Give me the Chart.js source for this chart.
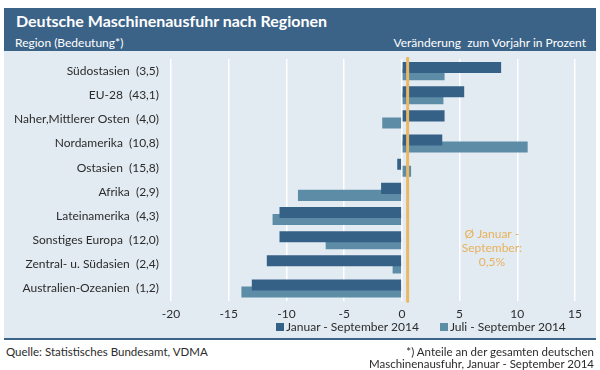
<!DOCTYPE html>
<html>
<head>
<meta charset="utf-8">
<script src="https://cdn.jsdelivr.net/npm/chart.js@4"></script>
<style>
  body { margin: 0; width: 600px; height: 370px; position: relative; background: #fff; font-family: Lato, sans-serif; color: #2b2b2b; overflow: hidden; }
  #head { position: absolute; left: 4px; top: 8px; width: 592px; height: 43px; background: #3b6388; color: #fff; }
  #title { position: absolute; left: 12px; top: 3px; font-size: 16px; font-weight: bold; }
  #subL { position: absolute; left: 11px; top: 27px; font-size: 12px; }
  #subR { position: absolute; right: 10px; top: 27px; font-size: 12px; }
  #plot { position: absolute; left: 4px; top: 51px; width: 592px; height: 287px; background: #e3ebf2; border-bottom: 2px solid #3b6388; }
  #legend { position: absolute; left: 276px; top: 319px; font-size: 12px; white-space: nowrap; }
  #legend span.item { margin-right: 21px; }
  #legend span.box { display: inline-block; width: 8px; height: 8px; margin-right: 2px; }
  .foot { position: absolute; font-size: 11.5px; line-height: 12px; }
</style>
</head>
<body>
<div id="head">
  <div id="title">Deutsche Maschinenausfuhr nach Regionen</div>
  <div id="subL">Region (Bedeutung*)</div>
  <div id="subR">Veränderung&nbsp; zum Vorjahr in Prozent</div>
</div>
<div id="plot"><canvas id="chart" width="592" height="287"></canvas></div>
<div id="legend"></div>
<div class="foot" style="left:6px; top:346px;">Quelle: Statistisches Bundesamt, VDMA</div>
<div class="foot" style="right:6px; top:346px; text-align:right;">*) Anteile an der gesamten deutschen<br>Maschinenausfuhr, Januar - September 2014</div>
<script>
const categories = ['Südostasien  (3,5)', 'EU-28  (43,1)', 'Naher,Mittlerer Osten  (4,0)', 'Nordamerika  (10,8)', 'Ostasien  (15,8)',
  'Afrika  (2,9)', 'Lateinamerika  (4,3)', 'Sonstiges Europa  (12,0)', 'Zentral- u. Südasien  (2,4)', 'Australien-Ozeanien  (1,2)'];
const seriesNames = ['Januar - September 2014', 'Juli - September 2014'];
const janSep = [8.6, 5.4, 3.7, 3.5, -0.4, -1.8, -10.6, -10.6, -11.7, -13.0];
const julSep = [3.7, 3.6, -1.7, 10.9, 0.8, -9.0, -11.2, -6.6, -0.8, -13.9];
const xMin = -20, xMax = 15, xStep = 5;
const avgJanSep = 0.5;
const avgLabel = ['Ø Januar -', 'September:', '0,5%'];
const avgLabelAt = 7.8;

const colors = ['#366186', '#5d8ca6'];

// orange average line + its label
const avgLine = {
  id: 'avgLine',
  afterDatasetsDraw(chart) {
    const { ctx, chartArea, scales } = chart;
    const x = scales.x.getPixelForValue(avgJanSep);
    ctx.save();
    ctx.strokeStyle = '#e9b864';
    ctx.lineWidth = 3;
    ctx.beginPath();
    ctx.moveTo(x, chartArea.top - 2);
    ctx.lineTo(x, chartArea.bottom + 2);
    ctx.stroke();
    ctx.fillStyle = '#e7b15c';
    ctx.font = '12px Lato';
    ctx.textAlign = 'center';
    ctx.textBaseline = 'middle';
    const tx = scales.x.getPixelForValue(avgLabelAt);
    const ty = (scales.y.getPixelForValue(7) + scales.y.getPixelForValue(8)) / 2 - 4;
    avgLabel.forEach((t, i) => ctx.fillText(t, tx, ty + (i - 1) * 14));
    ctx.restore();
  }
};

const noPad = s => { s.paddingTop = 0; s.paddingBottom = 0; s.paddingLeft = 0; s.paddingRight = 0; };

const chart = new Chart(document.getElementById('chart'), {
  type: 'bar',
  data: {
    labels: categories,
    datasets: [
      { label: seriesNames[0], data: janSep, backgroundColor: colors[0] },
      { label: seriesNames[1], data: julSep, backgroundColor: colors[1] }
    ]
  },
  options: {
    indexAxis: 'y',
    responsive: false,
    animation: false,
    categoryPercentage: 14 / 24,
    barPercentage: 11 / 7,
    layout: { padding: { top: 8, right: 21, bottom: 11, left: 0 } },
    plugins: { legend: { display: false }, tooltip: { enabled: false } },
    scales: {
      x: {
        min: xMin, max: xMax,
        ticks: { stepSize: xStep, padding: 6, color: '#2b2b2b', font: { family: 'Lato', size: 12 }, callback: v => String(v) },
        grid: { color: '#ffffff', lineWidth: 1.5, drawTicks: false },
        border: { display: false },
        afterFit: noPad
      },
      y: {
        ticks: { padding: 12, color: '#2b2b2b', font: { family: 'Lato', size: 12 } },
        grid: { display: false, drawTicks: false },
        border: { display: false },
        afterFit: s => { noPad(s); s.width = 167; }
      }
    }
  },
  plugins: [avgLine]
});

const legend = document.getElementById('legend');
chart.data.datasets.forEach(ds => {
  const item = document.createElement('span');
  item.className = 'item';
  item.innerHTML = `<span class="box" style="background:${ds.backgroundColor}"></span>${ds.label}`;
  legend.appendChild(item);
});
</script>
</body>
</html>
